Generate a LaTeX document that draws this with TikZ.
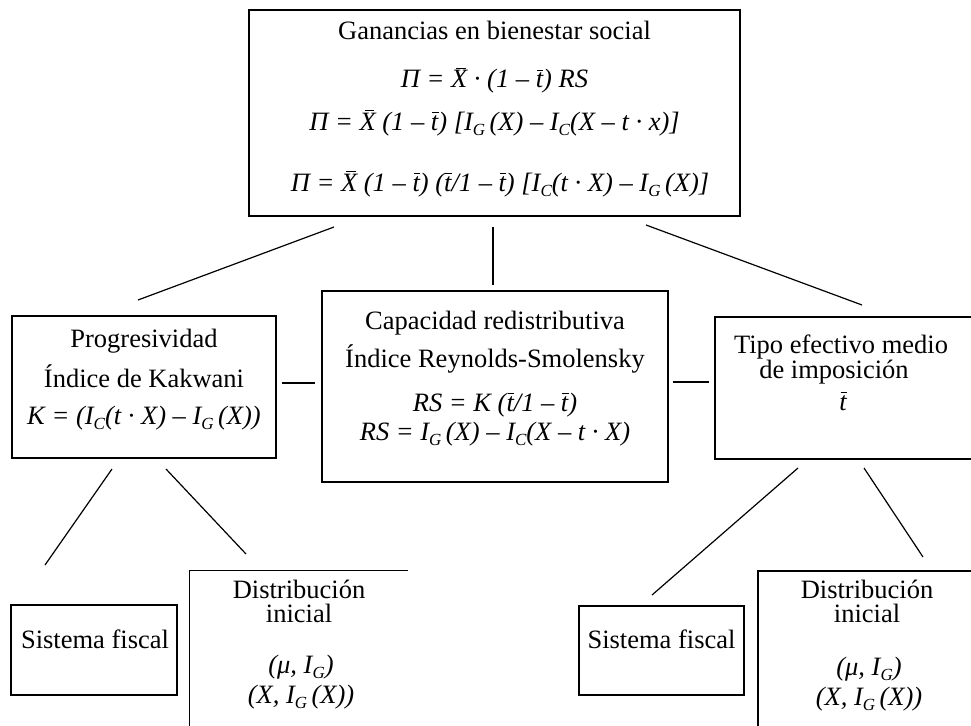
\documentclass[tikz,border=0pt]{standalone}
\usepackage{fontspec}
\setmainfont{Liberation Serif}
\newcommand\bigf{\fontsize{26.5}{30}\selectfont}
\newcommand\ovl[1]{\setbox0\hbox{#1}\makebox[0pt][l]{\hspace{0.32\wd0}\raisebox{\dimexpr\ht0+2pt\relax}{\rule{0.6\wd0}{1.1pt}}}\box0\relax}
\newcommand\ovt[1]{\setbox0\hbox{#1}\makebox[0pt][l]{\hspace{0.18\wd0}\raisebox{\dimexpr\ht0+2pt\relax}{\rule{0.85\wd0}{1.1pt}}}\box0\relax}
\newcommand\sbs[1]{\raisebox{-5.5pt}{\fontsize{17}{17}\selectfont #1}}
\tikzset{
  box/.style={draw, line width=1.2pt, rectangle, inner sep=0pt},
  openbox/.style={rectangle, inner sep=0pt},
  txt/.style={anchor=base, inner sep=0pt, font=\bigf},
  fml/.style={anchor=base, inner sep=0pt, font=\bigf\itshape},
  conn/.style={line width=1.2pt}
}
\begin{document}
\begin{tikzpicture}[x=1pt,y=-1pt]
\useasboundingbox (0,0) rectangle (971,725);
\clip (0,0) rectangle (971,725);
\fill[white] (0,0) rectangle (971,725);

% boxes
\node[box, minimum width=491pt, minimum height=206pt] (top) at (494.5,113) {};
\node[box, minimum width=264pt, minimum height=142pt] (prog) at (144,387) {};
\node[box, minimum width=346pt, minimum height=191pt] (cap) at (495,386.5) {};
\node[box, minimum width=260pt, minimum height=142pt] (tipo) at (845,388) {};
\node[box, minimum width=166pt, minimum height=90pt] (sisL) at (94,650) {};
\node[openbox, minimum width=218pt, minimum height=170pt] (disL) at (299,656) {};
\node[box, minimum width=165pt, minimum height=89pt] (sisR) at (661.5,650.5) {};
\node[box, minimum width=218pt, minimum height=170pt] (disR) at (867,656) {};
\draw[conn] (disL.south west) -- (disL.north west) -- (disL.north east);

% top box text
\node[txt] (t1) at (494.5,40) {Ganancias en bienestar social};
\node[fml] (t2) at (494.5,88) {Π = \ovl{X} · (1 – \ovt{t}) RS};
\node[fml] (t3) at (494.5,130) {Π = \ovl{X} (1 – \ovt{t}) [I\sbs{G}\,(X) – I\sbs{C}(X – t · x)]};
\node[fml] (t4) at (500,191) {Π = \ovl{X} (1 – \ovt{t}) (\ovt{t}/1 – \ovt{t}) [I\sbs{C}(t · X) – I\sbs{G}\,(X)]};

% left box text
\node[txt] (p1) at (144,347) {Progresividad};
\node[txt] (p2) at (144,387) {Índice de Kakwani};
\node[fml] (p3) at (144,424) {K = (I\sbs{C}(t · X) – I\sbs{G}\,(X))};

% center box text
\node[txt] (c1) at (495,329) {Capacidad redistributiva};
\node[txt] (c2) at (495,367) {Índice Reynolds-Smolensky};
\node[fml] (c3) at (495,411) {RS = K (\ovt{t}/1 – \ovt{t})};
\node[fml] (c4) at (495,440) {RS = I\sbs{G}\,(X) – I\sbs{C}(X – t · X)};

% right box text
\node[txt] (r1) at (841,353) {Tipo efectivo medio};
\node[txt] (r2) at (834,378) {de imposición};
\node[fml] (r3) at (843,410) {\ovt{t}};

% bottom boxes text
\node[txt] (sl) at (95,648) {Sistema fiscal};
\node[txt] (dl1) at (299,598) {Distribución};
\node[txt] (dl2) at (299,622) {inicial};
\node[fml] (dl3) at (301,673) {(μ, I\sbs{G})};
\node[fml] (dl4) at (301,703) {(X, I\sbs{G}\,(X))};

\node[txt] (sr) at (661.5,648) {Sistema fiscal};
\node[txt] (dr1) at (867,598) {Distribución};
\node[txt] (dr2) at (867,622) {inicial};
\node[fml] (dr3) at (869,675) {(μ, I\sbs{G})};
\node[fml] (dr4) at (869,705) {(X, I\sbs{G}\,(X))};

% connector end points
\coordinate (a1) at (334,227); \coordinate (a2) at (138,300);
\coordinate (b1) at (493,227); \coordinate (b2) at (493,285);
\coordinate (d1) at (646,225); \coordinate (d2) at (862,305);
\coordinate (e1) at (282,383); \coordinate (e2) at (315,383);
\coordinate (f1) at (673,382); \coordinate (f2) at (709,382);
\coordinate (g1) at (112,469); \coordinate (g2) at (45,565);
\coordinate (h1) at (166,469); \coordinate (h2) at (246,554);
\coordinate (i1) at (798,468); \coordinate (i2) at (652,595);
\coordinate (j1) at (864,468); \coordinate (j2) at (923,557);

\draw[conn] (a1) -- (a2);
\draw[conn] (b1) -- (b2);
\draw[conn] (d1) -- (d2);
\draw[conn] (e1) -- (e2);
\draw[conn] (f1) -- (f2);
\draw[conn] (g1) -- (g2);
\draw[conn] (h1) -- (h2);
\draw[conn] (i1) -- (i2);
\draw[conn] (j1) -- (j2);
\end{tikzpicture}
\end{document}
